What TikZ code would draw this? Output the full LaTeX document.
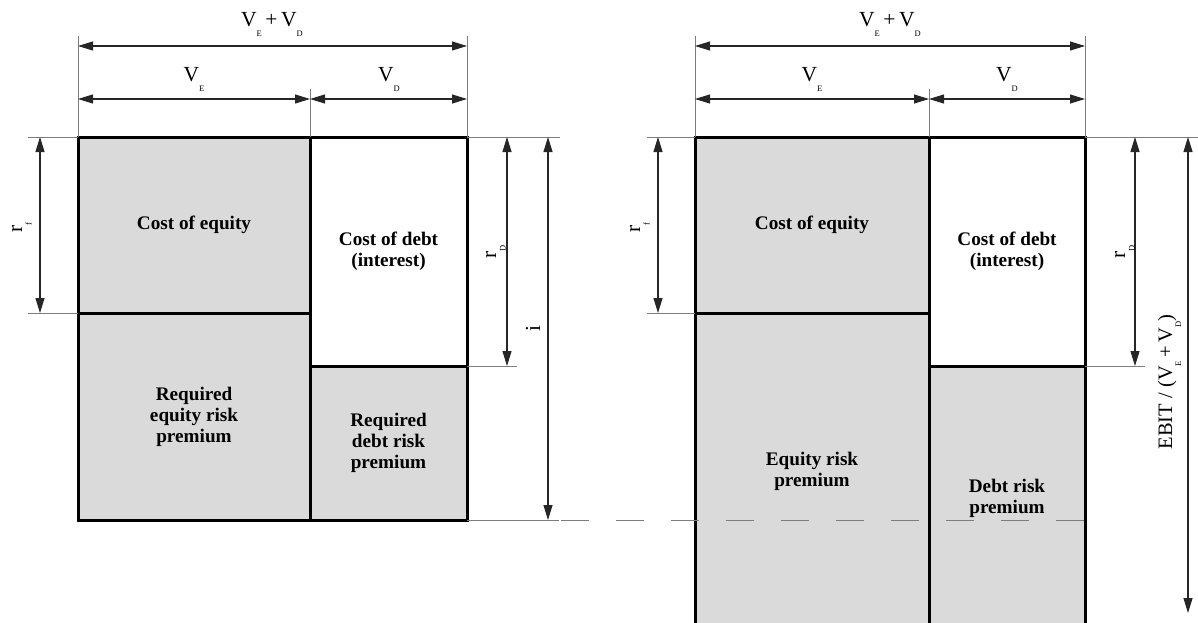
\documentclass[tikz,border=0pt]{standalone}
\usepackage{fontspec}
\setmainfont{Liberation Serif}
\usetikzlibrary{arrows.meta}
\definecolor{cellgray}{RGB}{218,218,218}
\definecolor{extgray}{RGB}{125,125,125}
\newcommand\sbs[1]{\raisebox{-0.45em}{\fontsize{8.5}{8.5}\selectfont #1}}
\begin{document}
\begin{tikzpicture}[x=1pt,y=-1pt,
  cell/.style={draw=black, line width=3pt, anchor=north west, inner sep=0pt, outer sep=0pt,
    align=center, font=\fontsize{19.2}{21}\selectfont\bfseries},
  grayc/.style={cell, fill=cellgray},
  whitec/.style={cell, fill=white},
  dim/.style={line width=1.1pt, draw=black!85, {Triangle[length=15pt,width=9pt]}-{Triangle[length=15pt,width=9pt]}},
  ext/.style={line width=0.9pt, draw=extgray},
  dashext/.style={ext, dash pattern=on 28pt off 27pt},
  dimlab/.style={font=\fontsize{21.5}{21.5}\selectfont, anchor=base, inner sep=0pt},
  vlab/.style={dimlab, rotate=90}]
\useasboundingbox (0,0) rectangle (1198,623);
\clip (0,0) rectangle (1198,623);
% helper coordinates
\coordinate (yA) at (0,46);
\coordinate (yB) at (0,99);
\coordinate (yT) at (0,36);
\coordinate (yM) at (0,89);
% ---------------- left diagram ----------------
\coordinate (xa) at (28,0);
\coordinate (xrf) at (40,0);
\coordinate (xrd) at (507,0);
\coordinate (xrdE) at (517,0);
\coordinate (xi) at (548,0);
\coordinate (xiE) at (560,0);
\node[grayc, minimum width=232pt, minimum height=176pt] (LCE) at (78,137) {Cost of equity};
\node[grayc, minimum width=232pt, minimum height=207pt] (LRE) at (78,313) {Required\\equity risk\\premium};
\node[grayc, minimum width=157pt, minimum height=154pt] (LRD) at (310,366) {Required\\debt risk\\premium};
\node[whitec, minimum width=157pt, minimum height=229pt] (LCD) at (310,137) {Cost of debt\\(interest)};
% extension lines
\draw[ext] (LCE.north west |- yT) -- (LCE.north west);
\draw[ext] (LCD.north east |- yT) -- (LCD.north east);
\draw[ext] (LCD.north west |- yM) -- (LCD.north west);
\draw[ext] (xa |- LCE.north west) -- (LCE.north west);
\draw[ext] (LCD.north east) -- (xiE |- LCD.north east);
\draw[ext] (xa |- LCE.south west) -- (LCE.south west);
\draw[ext] (LCD.south east) -- (xrdE |- LCD.south east);
\draw[ext] (LRD.south east) -- (559,520) coordinate (dashL);
% dimension arrows
\draw[dim] (LCE.north west |- yA) -- (LCD.north east |- yA);
\draw[dim] (LCE.north west |- yB) -- (LCD.north west |- yB);
\draw[dim] (LCD.north west |- yB) -- (LCD.north east |- yB);
\draw[dim] (xrf |- LCE.north west) -- (xrf |- LCE.south west);
\draw[dim] (xrd |- LCD.north east) -- (xrd |- LCD.south east);
\draw[dim] (xi |- LCD.north east) -- (xi |- LRD.south east);
% labels
\node[dimlab] (lVEVD) at (272,27) {V\sbs{E}\,+\,V\sbs{D}};
\node[dimlab] (lVE) at (194,82) {V\sbs{E}};
\node[dimlab] (lVD) at (389,82) {V\sbs{D}};
\node[vlab] (lrf) at (22,228) {r\sbs{f}};
\node[vlab] (lrd) at (496,252) {r\sbs{D}};
\node[vlab] (li) at (540,329) {i};
% ---------------- right diagram ----------------
\coordinate (xb) at (647,0);
\coordinate (xrf2) at (658,0);
\coordinate (xrd2) at (1135,0);
\coordinate (xrdE2) at (1145,0);
\coordinate (xeb) at (1188,0);
\coordinate (xR) at (1198,0);
\coordinate (yEnd) at (0,613);
\node[grayc, minimum width=234pt, minimum height=176pt] (RCE) at (695,137) {Cost of equity};
\node[grayc, minimum width=234pt, minimum height=317pt] (RRE) at (695,313) {Equity risk\\premium};
\node[grayc, minimum width=156pt, minimum height=264pt] (RRD) at (929,366) {Debt risk\\premium};
\node[whitec, minimum width=156pt, minimum height=229pt] (RCD) at (929,137) {Cost of debt\\(interest)};
\draw[ext] (RCE.north west |- yT) -- (RCE.north west);
\draw[ext] (RCD.north east |- yT) -- (RCD.north east);
\draw[ext] (RCD.north west |- yM) -- (RCD.north west);
\draw[ext] (xb |- RCE.north west) -- (RCE.north west);
\draw[ext] (RCD.north east) -- (xR |- RCD.north east);
\draw[ext] (xb |- RCE.south west) -- (RCE.south west);
\draw[ext] (RCD.south east) -- (xrdE2 |- RCD.south east);
% dashed continuation of i
\draw[dashext] (561,520) -- (1090,520);
% dimension arrows
\draw[dim] (RCE.north west |- yA) -- (RCD.north east |- yA);
\draw[dim] (RCE.north west |- yB) -- (RCD.north west |- yB);
\draw[dim] (RCD.north west |- yB) -- (RCD.north east |- yB);
\draw[dim] (xrf2 |- RCE.north west) -- (xrf2 |- RCE.south west);
\draw[dim] (xrd2 |- RCD.north east) -- (xrd2 |- RCD.south east);
\draw[dim] (xeb |- RCD.north east) -- (xeb |- yEnd);
% labels
\node[dimlab] (rVEVD) at (890,27) {V\sbs{E}\,+\,V\sbs{D}};
\node[dimlab] (rVE) at (812,82) {V\sbs{E}};
\node[dimlab] (rVD) at (1007,82) {V\sbs{D}};
\node[vlab] (rrf) at (640,228) {r\sbs{f}};
\node[vlab] (rrd) at (1125,252) {r\sbs{D}};
\node[vlab, font=\fontsize{20.5}{20.5}\selectfont] (rebit) at (1172,382) {EBIT / (V\sbs{E}\,+\,V\sbs{D})};
\end{tikzpicture}
\end{document}
